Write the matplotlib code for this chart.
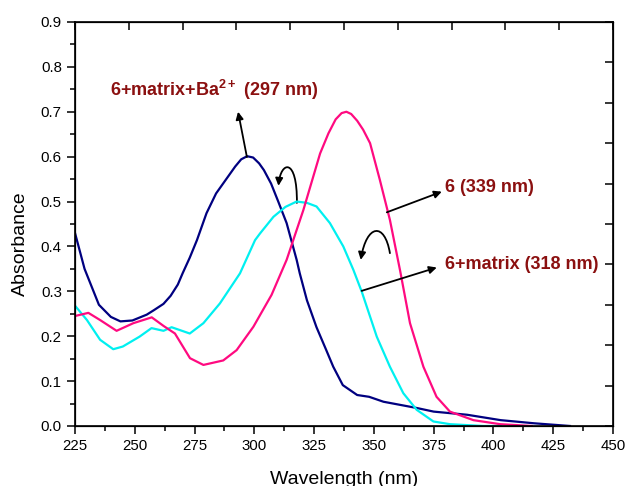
import matplotlib
matplotlib.use("Agg")
import matplotlib.pyplot as plt
from matplotlib.patches import FancyArrowPatch
from matplotlib.path import Path

plt.rcParams['font.family'] = ['Liberation Sans', 'DejaVu Sans']
plt.rcParams['mathtext.fontset'] = 'custom'
plt.rcParams['mathtext.rm'] = 'Liberation Sans'
plt.rcParams['mathtext.bf'] = 'Liberation Sans:bold'

# 6+matrix+Ba2+ (navy)
ba_x = [225, 229, 235, 240, 244, 249, 255, 258, 262, 265, 268, 270, 273, 276, 280, 284, 290, 292,
        294.5, 297, 299.5, 302, 304, 307, 310, 313.5, 317.7, 319, 322, 326, 330, 333, 337, 343,
        348, 354, 361, 368, 375, 389, 403, 417, 432]
ba_y = [0.43, 0.35, 0.27, 0.243, 0.233, 0.235, 0.248, 0.258, 0.272, 0.29, 0.315, 0.34, 0.375, 0.414,
        0.474, 0.518, 0.563, 0.578, 0.594, 0.601, 0.598, 0.585, 0.57, 0.54, 0.50, 0.452, 0.37,
        0.34, 0.28, 0.22, 0.17, 0.132, 0.091, 0.069, 0.065, 0.054, 0.047, 0.04, 0.032, 0.025,
        0.013, 0.006, 0.0]

# 6+matrix (cyan)
mx_x = [225, 230, 235.5, 241, 245, 252, 257, 262, 265.4, 273, 278.7, 285.6, 294, 300.3, 302.4, 308,
        313, 317.7, 322, 326, 331.6, 337.2, 341.4, 345, 351.2, 356.7, 362.3, 367.9, 374.9, 381.8,
        395.7, 403]
mx_y = [0.268, 0.236, 0.192, 0.171, 0.177, 0.199, 0.218, 0.212, 0.220, 0.206, 0.229, 0.273, 0.340,
        0.414, 0.429, 0.466, 0.488, 0.500, 0.497, 0.489, 0.452, 0.400, 0.348, 0.298, 0.199, 0.132,
        0.073, 0.036, 0.010, 0.004, 0.0, 0.0]

# 6 (pink)
s6_x = [225, 230.6, 235.5, 242.4, 249.4, 257.1, 262, 266.8, 273.1, 278.7, 287, 292.6, 299.6, 307.2,
        313.5, 320.5, 327.5, 331, 334, 336.5, 338.5, 340.5, 343, 345.5, 348.4, 352.5, 356.7, 361,
        365.1, 370.7, 376.2, 381.8, 391.6, 402.8, 416]
s6_y = [0.245, 0.252, 0.236, 0.212, 0.229, 0.242, 0.223, 0.206, 0.151, 0.136, 0.146, 0.169, 0.221,
        0.292, 0.370, 0.481, 0.607, 0.652, 0.683, 0.697, 0.700, 0.695, 0.680, 0.660, 0.630, 0.548,
        0.459, 0.345, 0.229, 0.132, 0.065, 0.032, 0.013, 0.004, 0.0]

fig = plt.figure(figsize=(6.27, 4.86), dpi=100)
ax = fig.add_axes([0.1196, 0.1235, 0.8581, 0.8313])

ax.plot(ba_x, ba_y, color='#000080', lw=1.6)
ax.plot(mx_x, mx_y, color='#00F0F0', lw=1.6)
ax.plot(s6_x, s6_y, color='#FF0A80', lw=1.6)

ax.set_xlim(225, 450)
ax.set_ylim(0, 0.9)
ax.set_xticks(range(225, 451, 25))
ax.set_xticks([237.5 + 25 * i for i in range(9)], minor=True)
ax.set_yticks([i / 10 for i in range(10)])
ax.set_yticks([0.05 + i / 10 for i in range(9)], minor=True)
ax.set_yticklabels(['%.1f' % (i / 10) for i in range(10)])
ax.tick_params(which='major', direction='out', length=6, width=1.1, labelsize=10.8)
ax.tick_params(which='minor', direction='out', length=3.5, width=1.1)
for s in ax.spines.values():
    s.set_linewidth(1.2)

# Origin-style top/right axes with their own tick spacing
top = ax.twiny()
top.set_xlim(0, 10)
top.set_xticks(range(11))
top.tick_params(direction='in', length=6, width=1.1, labeltop=False)
right = ax.twinx()
right.set_ylim(0, 1)
right.set_yticks([i / 10 for i in range(11)])
right.tick_params(direction='in', length=6, width=1.1, labelright=False)

ax.set_xlabel('Wavelength (nm)', fontsize=14)
ax.set_ylabel('Absorbance', fontsize=14)
ax.xaxis.set_label_coords(0.5, -0.112)
ax.yaxis.set_label_coords(-0.085, 0.45)

tc = '#8B1010'
fs = 13
ax.text(239.6, 0.748, r'6+matrix+Ba$^{\mathbf{2+}}$ (297 nm)', color=tc, fontsize=fs,
        fontweight='bold', va='center', ha='left')
ax.text(379.7, 0.532, '6 (339 nm)', color=tc, fontsize=fs, fontweight='bold', va='center')
ax.text(379.7, 0.359, '6+matrix (318 nm)', color=tc, fontsize=fs, fontweight='bold', va='center')

aprops = dict(arrowstyle='-|>', color='k', lw=1.3, mutation_scale=11, shrinkA=0, shrinkB=0)
ax.annotate('', xy=(293.2, 0.70), xytext=(296.9, 0.599), arrowprops=aprops)
ax.annotate('', xy=(378.4, 0.522), xytext=(355.4, 0.476), arrowprops=aprops)
ax.annotate('', xy=(376.3, 0.353), xytext=(344.9, 0.301), arrowprops=aprops)

for verts in ([(317.8, 0.497), (318.0, 0.60), (311.0, 0.59), (310.1, 0.535)],
              [(356.7, 0.385), (354.5, 0.455), (347.0, 0.45), (344.5, 0.370)]):
    p = Path(verts, [Path.MOVETO, Path.CURVE4, Path.CURVE4, Path.CURVE4])
    ax.add_patch(FancyArrowPatch(path=p, arrowstyle='-|>', color='k', lw=1.3,
                                 mutation_scale=11, shrinkA=0, shrinkB=0))

fig.savefig('out.png', dpi=100)
